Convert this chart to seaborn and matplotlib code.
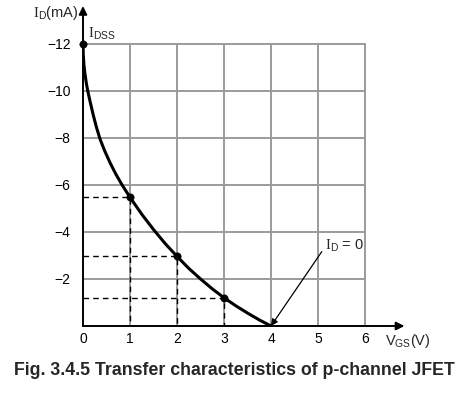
import matplotlib
matplotlib.use("Agg")
import matplotlib.pyplot as plt
import pandas as pd
import seaborn as sns

# curve (V_GS in V, I_D in mA)
vgs_curve = [0, 0.005, 0.02, 0.04, 0.07, 0.10, 0.15, 0.22, 0.29, 0.36, 0.46, 0.58, 0.70,
             0.83, 1.0, 1.25, 1.5, 1.75, 2.0, 2.25, 2.5, 2.75, 3.0, 3.25, 3.5, 3.75, 4.0]
id_curve = [-12, -11.55, -11.1, -10.74, -10.33, -10.0, -9.55, -8.95, -8.42, -7.96, -7.45,
            -6.92, -6.45, -6.0, -5.47, -4.75, -4.1, -3.5, -2.96, -2.45, -2.0, -1.58, -1.2,
            -0.86, -0.55, -0.26, 0]

# marked points
vgs_points = [0, 1, 2, 3]
id_points = [-12, -5.47, -2.96, -1.2]

x_ticks = [0, 1, 2, 3, 4, 5, 6]
y_ticks = [-2, -4, -6, -8, -10, -12]

sns.set_theme(style="white")
plt.rcParams["font.family"] = ["Liberation Sans", "DejaVu Sans"]
plt.rcParams["mathtext.fontset"] = "custom"
plt.rcParams["mathtext.rm"] = "Liberation Serif"
plt.rcParams["mathtext.sf"] = "Liberation Sans"
plt.rcParams["mathtext.it"] = "Liberation Sans:italic"

fig = plt.figure(figsize=(4.69, 3.97), dpi=100)
ax = fig.add_axes([83 / 469, 71 / 397, 6.84 * 47 / 469, 320 / 397])
ax.set_xlim(0, 6.84)
ax.set_ylim(0, -13.6)

# grid
grid_c = "#9b9b9b"
for x in x_ticks[1:]:
    ax.plot([x, x], [0, -12], color=grid_c, lw=1.4, zorder=1)
for y in y_ticks:
    ax.plot([0, 6], [y, y], color=grid_c, lw=1.4, zorder=1)

# dashed projections
for x, y in zip(vgs_points[1:], id_points[1:]):
    ax.plot([0, x, x], [y, y, 0], color="black", lw=1.0, ls=(0, (4, 3)), zorder=2)

df = pd.DataFrame({"VGS": vgs_curve, "ID": id_curve})
sns.lineplot(data=df, x="VGS", y="ID", ax=ax, color="black", lw=2.2, sort=False,
             estimator=None, zorder=3, solid_joinstyle="round", solid_capstyle="round")
sns.scatterplot(x=vgs_points, y=id_points, ax=ax, color="black", s=28,
                edgecolor="black", zorder=4, clip_on=False)

# axes with arrows
for s in ax.spines.values():
    s.set_visible(False)
ax.annotate("", xy=(6.84, 0), xytext=(0, 0), annotation_clip=False,
            arrowprops=dict(arrowstyle="-|>", color="black", lw=1.4,
                            mutation_scale=12, shrinkA=0, shrinkB=0))
ax.annotate("", xy=(0, -13.6), xytext=(0, 0), annotation_clip=False,
            arrowprops=dict(arrowstyle="-|>", color="black", lw=1.4,
                            mutation_scale=12, shrinkA=0, shrinkB=0))

ax.set_xticks(x_ticks)
ax.set_yticks(y_ticks)
ax.set_yticklabels(["\u2212" + str(-v) for v in y_ticks])
ax.tick_params(length=0, labelsize=10, colors="black")
ax.tick_params(axis="x", pad=4)
ax.tick_params(axis="y", pad=9)
ax.set_xlabel("")
ax.set_ylabel("")

ax.text(-1.06, -13.15, r"$\mathrm{I}_\mathsf{D}$(mA)", fontsize=10.5, ha="left",
        va="baseline", clip_on=False)
ax.text(0.11, -12.26, r"$\mathrm{I}_\mathsf{DSS}$", fontsize=10.5, ha="left", va="baseline")
ax.text(6.43, 0.81, r"V$_\mathsf{GS}$(V)", fontsize=10.5, ha="left", va="baseline",
        clip_on=False)
ax.text(5.14, -3.23, r"$\mathrm{I}_\mathsf{D}$ = 0", fontsize=10.5, ha="left", va="baseline")
ax.annotate("", xy=(4.0, 0), xytext=(5.08, -3.16),
            arrowprops=dict(arrowstyle="-|>", color="black", lw=0.9,
                            mutation_scale=10, shrinkA=0, shrinkB=0))

fig.text(0.5, 22 / 397, "Fig. 3.4.5 Transfer characteristics of p-channel JFET",
         ha="center", va="baseline", fontsize=12.8, fontweight="bold")

fig.savefig("out.png", dpi=100)
